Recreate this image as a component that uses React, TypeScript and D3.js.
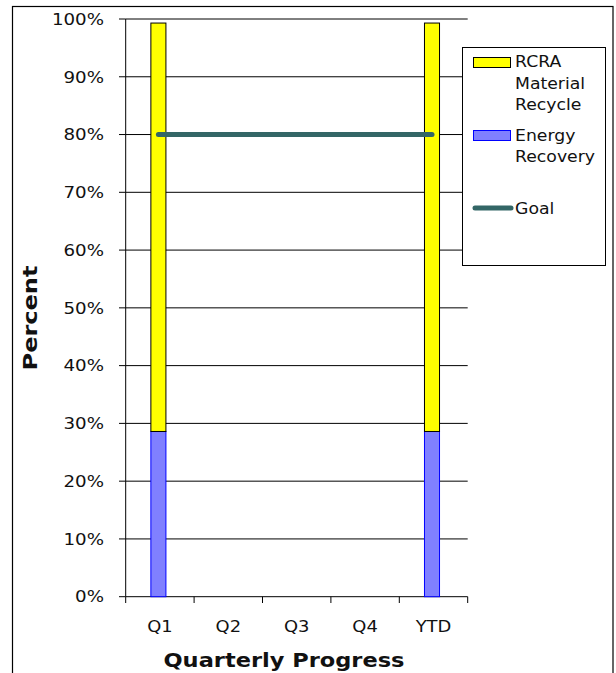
import React from "react";
import * as d3 from "d3";

const categories = ["Q1", "Q2", "Q3", "Q4", "YTD"];
const energyRecovery: (number | null)[] = [28.6, null, null, null, 28.6];
const materialRecycle: (number | null)[] = [70.7, null, null, null, 70.7];
const goal = [80, 80, 80, 80, 80];
const yTicks = [0, 10, 20, 30, 40, 50, 60, 70, 80, 90, 100];

const W = 616;
const H = 673;
const plot = { left: 125.7, right: 467.7, top: 19, bottom: 596.7 };
const FONT = "'DejaVu Sans', Verdana, sans-serif";

type STextProps = {
  x: number;
  y: number;
  sx?: number;
  anchor?: "start" | "middle" | "end";
  size?: number;
  bold?: boolean;
  dy?: string;
  children: React.ReactNode;
};

// Text with a horizontal stretch applied around its anchor point
function SText({ x, y, sx = 1.12, anchor = "start", size = 16, bold = false, dy, children }: STextProps) {
  return (
    <text
      transform={`translate(${x},${y}) scale(${sx},1)`}
      textAnchor={anchor}
      fontSize={size}
      fontWeight={bold ? "bold" : "normal"}
      dy={dy}
      fill="#111"
    >
      {children}
    </text>
  );
}

export default function App() {
  const x = d3.scaleBand<string>().domain(categories).range([plot.left, plot.right]).padding(0);
  const y = d3.scaleLinear().domain([0, 100]).range([plot.bottom, plot.top]);
  const barW = x.bandwidth() * 0.22;
  const cx = (c: string) => (x(c) as number) + x.bandwidth() / 2 - 1.5;

  const goalLine = d3
    .line<number>()
    .x((_, i) => cx(categories[i]))
    .y((d) => y(d));

  const boundaries = categories.map((c) => x(c) as number).concat([plot.right]);

  return (
    <svg
      width={W}
      height={H}
      style={{ position: "absolute", left: 0, top: 0, background: "#fff" }}
      fontFamily={FONT}
    >
      {/* chart frame */}
      <rect x={12.5} y={6.5} width={600.5} height={700} fill="#fff" stroke="#000" strokeWidth={1.2} />

      {/* gridlines + y ticks */}
      {yTicks.map((t) => (
        <g key={t}>
          <line x1={plot.left} x2={plot.right} y1={y(t)} y2={y(t)} stroke="#000" strokeWidth={1} />
          <line x1={119} x2={plot.left} y1={y(t)} y2={y(t)} stroke="#000" strokeWidth={1} />
          <SText x={104} y={y(t)} dy="0.36em" anchor="end" sx={1.14}>
            {t}%
          </SText>
        </g>
      ))}

      {/* axes */}
      <line x1={plot.left} x2={plot.left} y1={plot.top} y2={plot.bottom} stroke="#000" strokeWidth={1} />
      {boundaries.map((b, i) => (
        <line key={i} x1={b} x2={b} y1={plot.bottom} y2={603} stroke="#000" strokeWidth={1} />
      ))}

      {/* stacked bars */}
      {categories.map((c, i) => {
        const e = energyRecovery[i];
        const m = materialRecycle[i];
        if (e == null || m == null) return null;
        const x0 = cx(c) - barW / 2;
        return (
          <g key={c}>
            <rect x={x0} y={y(e)} width={barW} height={y(0) - y(e)} fill="#8080FF" stroke="#0000FF" strokeWidth={1} />
            <rect x={x0} y={y(e + m)} width={barW} height={y(e) - y(e + m)} fill="#FFFF00" stroke="#000" strokeWidth={1} />
          </g>
        );
      })}

      {/* goal line */}
      <path d={goalLine(goal) || ""} fill="none" stroke="#336666" strokeWidth={5} strokeLinecap="round" />

      {/* x labels */}
      {categories.map((c) => (
        <SText key={c} x={cx(c) + 1.5} y={632} anchor="middle" sx={1.12}>
          {c}
        </SText>
      ))}

      <text x={284} y={667} textAnchor="middle" fontSize={19} fontWeight="bold" fill="#111"
        textLength={241} lengthAdjust="spacingAndGlyphs">
        Quarterly Progress
      </text>
      <text transform="translate(37,318) rotate(-90)" textAnchor="middle" fontSize={19} fontWeight="bold" fill="#111"
        textLength={105} lengthAdjust="spacingAndGlyphs">
        Percent
      </text>

      {/* legend */}
      <g>
        <rect x={462.5} y={47.5} width={143} height={218} fill="#fff" stroke="#000" strokeWidth={1} />
        <rect x={473.5} y={57.5} width={37} height={10} fill="#FFFF00" stroke="#000" strokeWidth={1} />
        <SText x={515} y={67} sx={1.08}>RCRA</SText>
        <SText x={515} y={89} sx={1.08}>Material</SText>
        <SText x={515} y={110} sx={1.08}>Recycle</SText>
        <rect x={473.5} y={130.5} width={37} height={10} fill="#8080FF" stroke="#0000FF" strokeWidth={1} />
        <SText x={515} y={141} sx={1.08}>Energy</SText>
        <SText x={515} y={162} sx={1.08}>Recovery</SText>
        <line x1={475} x2={511} y1={208} y2={208} stroke="#336666" strokeWidth={5} strokeLinecap="round" />
        <SText x={515} y={213.5} sx={1.08}>Goal</SText>
      </g>
    </svg>
  );
}
